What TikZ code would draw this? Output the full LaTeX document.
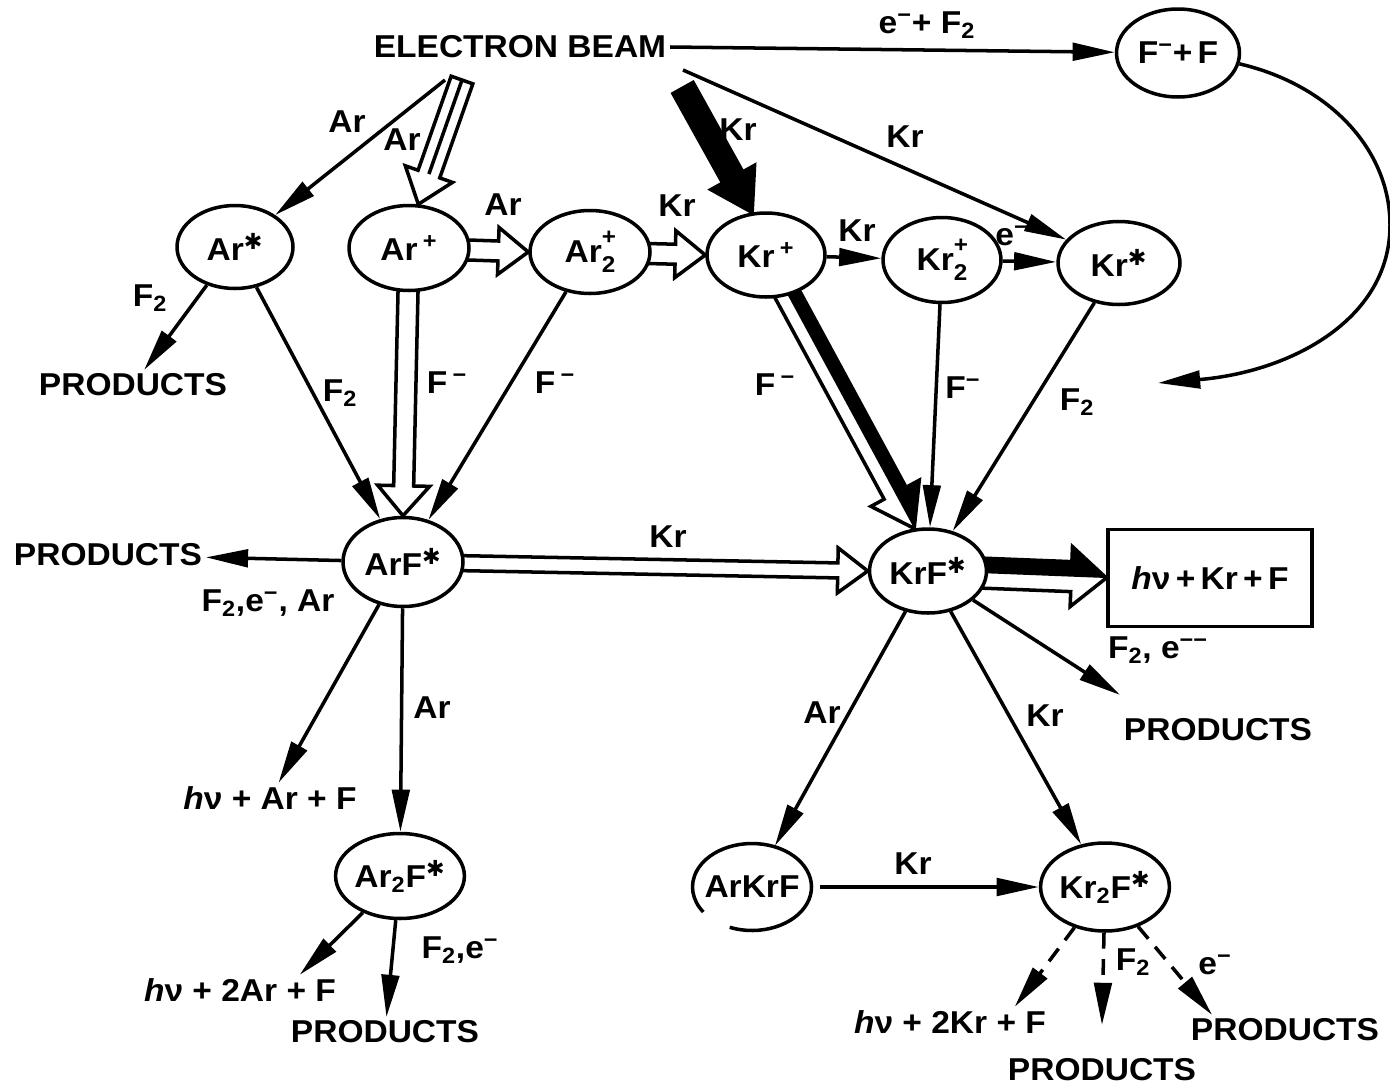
\documentclass[tikz,border=0pt]{standalone}
\usepackage{fontspec}
\setmainfont{Liberation Sans}[FakeStretch=1.06]
\newfontfamily\symf{DejaVu Sans}
\usetikzlibrary{arrows.meta,shapes.geometric,calc}
\pgfdeclarelayer{bg}
\pgfsetlayers{bg,main}
\newcommand\st{\textsuperscript{\symf ✱}}
\newcommand\ssb[2]{\rlap{\raisebox{1.05ex}{\fontsize{13}{13}\selectfont #1}}\raisebox{-0.6ex}{\fontsize{13}{13}\selectfont #2}}
\newcommand\mn{\textsuperscript{−}}
\newcommand\hv{\textit{h}ν}
\newcommand\arrowpoly[5]{%
  \path (#1) coordinate (hA) (#2) coordinate (hB);
  \path ($(hB)!#5!(hA)$) coordinate (hP);
  \path ($(hA)!#3!90:(hB)$) coordinate (hA1)
        ($(hA)!#3!-90:(hB)$) coordinate (hA2)
        ($(hP)!#3!90:(hB)$) coordinate (hP1)
        ($(hP)!#3!-90:(hB)$) coordinate (hP2)
        ($(hP)!#4!90:(hB)$) coordinate (hW1)
        ($(hP)!#4!-90:(hB)$) coordinate (hW2);}
\newcommand\hollowarrow[5]{\arrowpoly{#1}{#2}{#3}{#4}{#5}%
  \draw[fat,fill=white] (hA1) -- (hP1) -- (hW1) -- (hB) -- (hW2) -- (hP2) -- (hA2) -- cycle;}
\newcommand\blackarrow[5]{\arrowpoly{#1}{#2}{#3}{#4}{#5}%
  \draw[fat,fill=black] (hA1) -- (hP1) -- (hW1) -- (hB) -- (hW2) -- (hP2) -- (hA2) -- cycle;}
\newcommand\halfarrow[5]{\hollowarrow{#1}{#2}{#3}{#4}{#5}%
  \fill[black] (hA) -- (hA1) -- (hP1) -- (hW1) -- (hB) -- cycle;}
\begin{document}
\begin{tikzpicture}[x=0.02cm,y=-0.02cm,
  every node/.style={font=\fontsize{18}{20}\selectfont\bfseries},
  ell/.style={ellipse,draw,line width=2pt,fill=white,inner sep=0pt},
  txt/.style={inner sep=2pt},
  lbl/.style={inner sep=1pt},
  arr/.style={line width=2pt,-{Triangle[length=24pt,width=10pt]}},
  fat/.style={line width=2pt,line join=miter}]
\useasboundingbox (0,0) rectangle (1390,1089);

% ---------- nodes ----------
\node[txt] (eb) at (520,47) {ELECTRON BEAM};
\node[ell,minimum width=2.46cm,minimum height=1.76cm] (fpf) at (1178,53) {F\mn+\,F};
\node[ell,minimum width=2.32cm,minimum height=1.66cm] (arS) at (235,247) {Ar\st};
\node[ell,minimum width=2.40cm,minimum height=1.70cm] (arP) at (409,248) {Ar\,\textsuperscript{+}};
\node[ell,minimum width=2.40cm,minimum height=1.66cm] (ar2P) at (590,252) {Ar\ssb{+}{2}};
\node[ell,minimum width=2.36cm,minimum height=1.68cm] (krP) at (766,255) {Kr\,\textsuperscript{+}};
\node[ell,minimum width=2.36cm,minimum height=1.70cm] (kr2P) at (942,260) {Kr\ssb{+}{2}};
\node[ell,minimum width=2.44cm,minimum height=1.66cm] (krS) at (1119,263) {Kr\st};
\node[ell,minimum width=2.40cm,minimum height=1.78cm] (arF) at (403,562) {ArF\st};
\node[ell,minimum width=2.34cm,minimum height=1.68cm] (krF) at (928,571) {KrF\st};
\node[draw,line width=2pt,fill=white,minimum width=4.08cm,minimum height=1.94cm] (box) at (1210,578) {\hv\,+\,Kr\,+\,F};
\node[ellipse,fill=white,inner sep=0pt,minimum width=2.38cm,minimum height=1.74cm] (arkrf) at (752,887) {ArKrF};
\draw[line width=2pt] (arkrf.center) ++(248:1.19cm and 0.87cm) arc[start angle=248,end angle=575,x radius=1.19cm,y radius=0.87cm];
\node[ell,minimum width=2.40cm,minimum height=1.76cm] (kr2F) at (1105,887) {Kr\textsubscript{2}F\st};
\node[ell,minimum width=2.46cm,minimum height=1.70cm] (ar2F) at (400,876) {Ar\textsubscript{2}F\st};

\node[txt] (prod1) at (133,385) {PRODUCTS};
\node[txt] (prod2) at (108,555) {PRODUCTS};
\node[txt] (hv1) at (270,798) {\hv\ + Ar + F};
\node[txt] (hv2) at (240,990) {\hv\ + 2Ar + F};
\node[txt] (prod3) at (385,1032) {PRODUCTS};
\node[txt] (prod4) at (1218,730) {PRODUCTS};
\node[txt] (hv3) at (950,1022) {\hv\ + 2Kr + F};
\node[txt] (prod5) at (1102,1070) {PRODUCTS};
\node[txt] (prod6) at (1285,1030) {PRODUCTS};

% ---------- labels ----------
\node[lbl] (lAr1) at (347,122) {Ar};
\node[lbl] (lAr2) at (402,140) {Ar};
\node[lbl] (lKr1) at (738,130) {Kr};
\node[lbl] (lKr2) at (905,137) {Kr};
\node[lbl] (leF) at (927,25) {e\mn+ F\textsubscript{2}};
\node[lbl] (lAr3) at (503,205) {Ar};
\node[lbl] (lKr3) at (677,206) {Kr};
\node[lbl] (lKr4) at (857,231) {Kr};
\node[lbl] (le1) at (1012,236) {e\mn};
\node[lbl] (lF1) at (150,298) {F\textsubscript{2}};
\node[lbl] (lF2) at (340,393) {F\textsubscript{2}};
\node[lbl] (lF3) at (447,383) {F\,\mn};
\node[lbl] (lF4) at (555,383) {F\,\mn};
\node[lbl] (lF5) at (775,385) {F\,\mn};
\node[lbl] (lF6) at (963,388) {F\mn};
\node[lbl] (lF7) at (1077,402) {F\textsubscript{2}};
\node[lbl] (lKr5) at (668,537) {Kr};
\node[lbl] (lPr) at (268,603) {F\textsubscript{2},e\mn, Ar};
\node[lbl] (lAr4) at (432,708) {Ar};
\node[lbl] (lF8) at (460,950) {F\textsubscript{2},e\mn};
\node[lbl] (lF9) at (1158,650) {F\textsubscript{2}, e\textsuperscript{−−}};
\node[lbl] (lAr5) at (822,713) {Ar};
\node[lbl] (lKr6) at (1045,716) {Kr};
\node[lbl] (lKr7) at (913,864) {Kr};
\node[lbl] (lF10) at (1133,962) {F\textsubscript{2}};
\node[lbl] (le2) at (1215,965) {e\mn};

% ---------- free ends ----------
\coordinate (ebAr) at (445,80);
\coordinate (ebArP) at (462,80);
\coordinate (ebK) at (683,88);
\coordinate (ebKr) at (683,70);
\coordinate (fpfEnd) at (1158,383);

% ---------- connectors ----------
\begin{pgfonlayer}{bg}
\draw[arr] (eb.east) -- (fpf);
\draw[arr] (ebAr) -- (arS);
\draw[arr] (ebKr) -- (krS);
\draw[arr] (fpf.-10) .. controls (1330,85) and (1390,150) .. (1390,225)
           .. controls (1390,320) and (1290,372) .. (fpfEnd);
\draw[arr] (arS) -- (prod1);
\draw[arr] (arS) -- (arF);
\draw[arr] (ar2P) -- (arF);
\draw[arr] (krP) -- (kr2P);
\draw[arr] (kr2P) -- (krS);
\draw[arr] (kr2P) -- (krF);
\draw[arr] (krS) -- (krF);
\draw[arr] (arF) -- (prod2);
\draw[arr] (arF) -- (hv1);
\draw[arr] (arF) -- (ar2F);
\draw[arr] (ar2F) -- ([xshift=-0.8cm]hv2.north east);
\draw[arr] (ar2F) -- (prod3);
\draw[arr] (krF) -- ([yshift=0.4cm]prod4.north west);
\draw[arr] (krF) -- (arkrf);
\draw[arr] (krF) -- (kr2F);
\draw[arr] (arkrf) -- (kr2F);
\draw[arr,dash pattern=on 9pt off 6pt] (kr2F) -- ([xshift=-0.7cm]hv3.north east);
\draw[arr,dash pattern=on 9pt off 6pt] (kr2F) -- ([yshift=0.6cm]prod5.north);
\draw[arr,dash pattern=on 9pt off 6pt] (kr2F) -- ([xshift=0.5cm]prod6.north west);

% fat arrows
\hollowarrow{ebArP}{arP.78}{0.23cm}{0.5cm}{0.64cm}
\draw[fat] (hA) -- (hP);
\blackarrow{ebK}{krP.108}{0.23cm}{0.5cm}{0.8cm}
\hollowarrow{arP}{ar2P.west}{0.2cm}{0.47cm}{0.6cm}
\hollowarrow{ar2P}{krP.west}{0.2cm}{0.47cm}{0.6cm}
\hollowarrow{arP}{arF.north}{0.2cm}{0.52cm}{0.6cm}
\hollowarrow{arF}{krF.west}{0.15cm}{0.45cm}{0.6cm}
\halfarrow{krP}{krF.108}{0.25cm}{0.55cm}{0.8cm}
\halfarrow{krF}{box.west}{0.3cm}{0.6cm}{0.7cm}
\end{pgfonlayer}
\end{tikzpicture}
\end{document}
